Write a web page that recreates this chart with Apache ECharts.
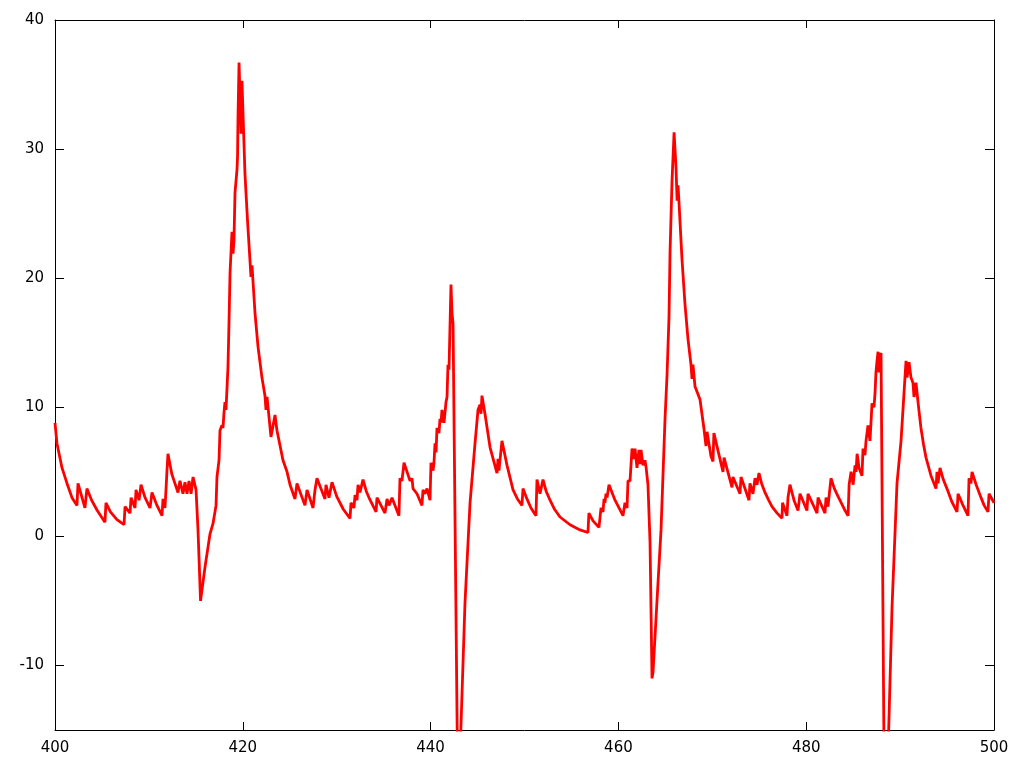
<!DOCTYPE html>
<html>
<head>
<meta charset="utf-8">
<script src="https://cdn.jsdelivr.net/npm/echarts@6/dist/echarts.min.js"></script>
<style>html,body{margin:0;padding:0;background:#fff}#chart{width:1024px;height:768px}</style>
</head>
<body>
<div id="chart"></div>
<script>
// Data (12 values per line in both arrays)
const timeValues = [
400.00,400.21,400.75,401.28,401.81,402.34,402.45,403.19,403.40,403.90,404.50,405.32,
405.43,405.90,406.60,407.35,407.46,407.99,408.10,408.52,408.63,408.95,409.16,409.59,
410.12,410.33,410.86,411.40,411.50,411.71,411.82,411.92,412.03,412.45,413.10,413.31,
413.63,413.84,414.06,414.27,414.49,414.70,415.02,415.23,415.50,415.97,416.51,416.83,
417.15,417.25,417.47,417.57,417.78,417.89,418.00,418.10,418.21,418.32,418.42,418.53,
418.64,418.85,418.96,419.06,419.17,419.38,419.44,419.49,419.60,419.81,419.91,420.23,
420.50,420.77,420.87,420.98,421.30,421.62,422.04,422.36,422.47,422.58,423.00,423.43,
423.64,424.28,424.71,425.03,425.56,425.77,426.62,426.84,427.48,427.69,427.90,428.75,
428.86,429.18,429.50,430.00,430.70,431.42,431.52,431.84,431.95,432.16,432.27,432.48,
432.80,433.15,433.50,434.19,434.29,435.14,435.36,435.57,435.89,436.63,436.74,436.95,
437.06,437.17,437.81,438.02,438.13,438.55,439.08,439.19,439.40,439.62,439.94,440.04,
440.26,440.36,440.47,440.58,440.68,440.89,441.00,441.11,441.21,441.43,441.64,441.75,
441.85,441.96,442.17,442.28,442.39,442.86,443.13,443.66,444.20,444.73,445.05,445.26,
445.37,445.47,445.79,446.33,447.07,447.18,447.28,447.60,448.14,448.78,449.25,449.73,
449.84,450.26,450.69,451.22,451.33,451.65,451.97,452.30,452.72,453.20,453.78,454.85,
455.91,456.76,456.86,457.30,457.93,458.15,458.36,458.47,458.57,458.68,458.79,459.00,
459.64,460.49,460.70,460.92,461.02,461.24,461.45,461.66,461.77,461.98,462.19,462.30,
462.41,462.62,462.83,462.94,463.15,463.37,463.58,463.69,464.11,464.54,464.96,465.18,
465.39,465.50,465.71,465.93,466.14,466.25,466.35,466.46,466.77,467.09,467.41,467.73,
467.84,467.94,468.16,468.69,469.12,469.33,469.44,469.86,470.07,470.17,471.14,471.25,
472.10,472.20,472.95,473.06,473.91,474.01,474.33,474.55,474.76,474.97,475.25,475.61,
476.00,476.36,476.90,477.42,477.48,477.95,478.06,478.27,478.70,479.13,479.34,480.08,
480.19,481.15,481.26,482.00,482.11,482.32,482.64,483.00,483.39,483.80,484.14,484.46,
484.57,484.78,485.00,485.20,485.31,485.42,485.63,485.94,486.05,486.26,486.37,486.58,
486.79,486.90,487.01,487.22,487.33,487.43,487.54,487.65,487.75,487.86,487.97,488.29,
488.71,489.14,489.67,490.10,490.63,490.74,490.95,491.16,491.37,491.48,491.69,492.00,
492.22,492.50,492.76,493.29,493.82,493.93,494.04,494.25,494.60,494.99,495.50,496.06,
496.17,496.70,497.23,497.34,497.55,497.66,498.10,498.62,498.95,499.36,499.47,500.00
];
const signalValues = [
8.8,7.2,5.3,4.1,3.0,2.4,4.1,2.2,3.7,2.8,2.0,1.1,
2.6,1.9,1.3,0.9,2.3,1.8,3.0,2.2,3.6,2.8,4.0,3.0,
2.2,3.4,2.4,1.6,2.9,2.2,3.6,5.0,6.4,4.8,3.4,4.3,
3.3,4.2,3.3,4.3,3.3,4.6,3.6,0.5,-5.0,-2.4,0.2,1.0,
2.4,4.6,5.9,8.2,8.6,8.4,9.6,10.4,9.8,11.5,13.1,16.5,
20.4,23.6,21.9,22.9,26.6,28.4,29.4,32.5,36.7,31.2,35.3,28.1,
24.5,21.3,20.1,21.0,17.3,14.7,12.3,10.9,9.8,10.8,7.7,9.4,
8.2,5.9,5.0,4.0,2.9,4.1,2.4,3.6,2.2,3.6,4.5,2.9,
4.0,3.0,4.2,3.1,2.1,1.4,2.6,2.2,3.2,2.8,4.0,3.4,
4.4,3.5,2.9,1.9,3.0,1.8,2.9,2.4,3.0,1.6,4.5,4.3,
4.2,5.7,4.3,4.5,3.7,3.3,2.4,3.6,3.3,3.7,2.8,5.7,
5.1,5.7,7.2,6.5,8.4,8.0,9.1,8.8,9.8,8.8,10.4,10.8,
13.3,12.9,19.5,17.3,16.5,-17.0,-17.0,-5.2,2.6,7.2,9.8,10.2,
9.5,10.9,9.5,6.9,4.9,6.0,5.1,7.4,5.5,3.6,2.9,2.4,
3.7,2.9,2.2,1.6,4.4,3.3,4.4,3.5,2.8,2.1,1.5,0.9,
0.5,0.3,1.8,1.2,0.7,2.2,1.9,2.9,2.6,3.3,3.0,4.0,
2.8,1.6,2.6,2.2,4.3,4.3,6.8,6.0,6.8,5.3,6.7,5.6,
6.7,5.5,5.9,5.4,4.0,-0.5,-11.0,-10.5,-5.0,0.5,9.0,12.5,
17.0,22.0,27.5,31.3,28.5,26.0,27.2,25.8,21.5,18.0,15.3,13.3,
12.2,13.3,11.6,10.6,8.3,7.0,8.1,6.2,5.8,8.0,5.0,6.1,
3.8,4.6,3.3,4.6,2.8,4.1,3.3,4.5,4.0,4.9,4.1,3.4,
2.8,2.3,1.8,1.4,2.6,1.6,3.0,4.0,2.8,2.0,3.3,2.0,
3.3,1.8,3.0,1.8,3.0,2.3,4.5,3.7,3.1,2.5,2.0,1.6,
4.0,5.0,4.0,5.5,5.0,6.4,5.3,4.7,6.8,6.3,7.4,8.6,
7.4,8.8,10.3,10.0,11.1,12.7,13.6,14.3,12.7,14.0,14.2,-17.0,
-17.0,-5.5,4.1,7.4,13.6,12.3,13.5,12.3,11.9,10.8,11.9,9.8,
8.4,7.1,6.1,4.7,3.7,5.0,4.1,5.3,4.4,3.7,2.7,1.9,
3.3,2.4,1.6,4.5,4.1,5.0,4.0,3.0,2.4,1.9,3.3,2.6
];
const xTickValues = [400, 420, 440, 460, 480, 500];
const yTickValues = [-10, 0, 10, 20, 30, 40];

const seriesData = timeValues.map((t, i) => [t, signalValues[i]]);

const chart = echarts.init(document.getElementById('chart'), null, {renderer: 'canvas'});
const font = 'DejaVu Sans';
const lineStyle = {color: '#000', width: 1};
function xAxis(pos, labels) {
  return {
    type: 'value', min: 400, max: 500, interval: 20, position: pos,
    axisLine: {show: true, onZero: false, lineStyle},
    axisTick: {show: true, inside: true, length: 8, lineStyle, customValues: xTickValues},
    axisLabel: {show: labels, color: '#000', fontSize: 15, fontFamily: font, margin: 11, customValues: xTickValues},
    splitLine: {show: false}
  };
}
function yAxis(pos, labels) {
  return {
    type: 'value', min: -15, max: 40, position: pos,
    axisLine: {show: true, onZero: false, lineStyle},
    axisTick: {show: true, inside: true, length: 9, lineStyle, customValues: yTickValues},
    axisLabel: {show: labels, color: '#000', fontSize: 15, fontFamily: font, margin: 11, customValues: yTickValues},
    splitLine: {show: false}
  };
}
chart.setOption({
  animation: false,
  backgroundColor: '#fff',
  grid: {left: 55, right: 30, top: 20, bottom: 38, containLabel: false},
  xAxis: [xAxis('bottom', true), xAxis('top', false)],
  yAxis: [yAxis('left', true), yAxis('right', false)],
  series: [{
    type: 'line',
    xAxisIndex: 0, yAxisIndex: 0,
    data: seriesData,
    showSymbol: false,
    symbol: 'none',
    clip: true,
    lineStyle: {color: '#ff0000', width: 2.8},
    itemStyle: {color: '#ff0000'}
  }]
});
</script>
</body>
</html>
